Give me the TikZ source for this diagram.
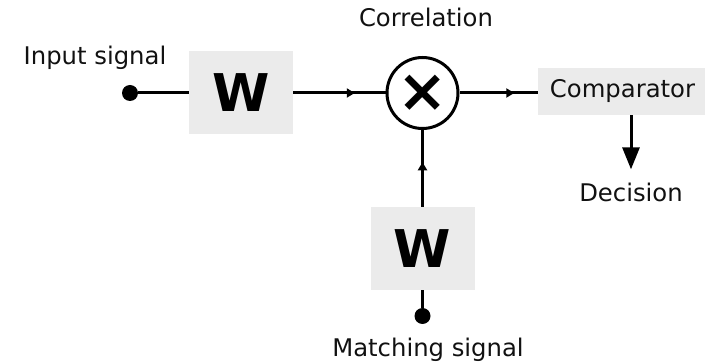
\documentclass[tikz,border=0pt]{standalone}
\usepackage{fontspec}
\setmainfont{DejaVu Sans}
\usetikzlibrary{arrows.meta,decorations.markings}
\definecolor{boxgray}{RGB}{235,235,235}
\definecolor{ink}{RGB}{17,17,17}
\begin{document}
\begin{tikzpicture}[x=1pt,y=-1pt,
  lbl/.style={font=\fontsize{24.3}{28}\selectfont, anchor=base, inner sep=0pt, text=ink},
  wbox/.style={fill=boxgray, minimum width=104pt, minimum height=83pt, inner sep=0pt, font=\fontsize{52}{56}\selectfont\bfseries},
  conn/.style={line width=3pt},
  midarrow/.style={postaction={decorate}, decoration={markings, mark=at position #1 with {\arrow{Triangle[length=8pt,width=9pt]}}}},
  dotnode/.style={circle, fill, minimum size=16pt, inner sep=0pt}]
\useasboundingbox (0,0) rectangle (705,363);

\node[wbox] (w1) at (241,93) {W};
\node[circle, draw, line width=3pt, minimum size=71pt, inner sep=0pt, font=\fontsize{60}{60}\selectfont\bfseries] (corr) at (422.5,93) {×};
\node[fill=boxgray, minimum width=169pt, minimum height=47pt, inner sep=0pt, font=\fontsize{24.3}{28}\selectfont, text=ink] (comp) at (622.5,91.5) {Comparator};
\node[wbox] (w2) at (422.5,248.5) {W};

\node[dotnode] (in) at (130,93) {};
\node[dotnode] (mdot) at (422.5,316) {};

\node[lbl] (inlbl) at (95,65) {Input signal};
\node[lbl] (corrlbl) at (426,27) {Correlation};
\node[lbl] (dec) at (631,202) {Decision};
\node[lbl] (mlbl) at (428,357) {Matching signal};

\draw[conn] (in) -- (w1);
\draw[conn, midarrow=0.667] (w1) -- (corr);
\draw[conn, midarrow=0.70] (corr) -- (corr -| comp.west);
\draw[conn, midarrow=0.58] (w2) -- (corr);
\draw[conn] (w2) -- (mdot);
\draw[conn, -{Triangle[length=22pt,width=17pt]}, shorten >=14pt] (comp.south -| dec.north) -- (dec.north);
\end{tikzpicture}
\end{document}
